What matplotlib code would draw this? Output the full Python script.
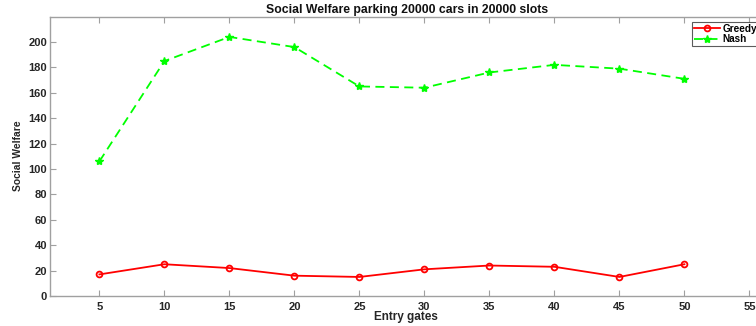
import matplotlib
matplotlib.use("Agg")
import matplotlib.pyplot as plt

gates = [5, 10, 15, 20, 25, 30, 35, 40, 45, 50]
greedy = [17, 25, 22, 16, 15, 21, 24, 23, 15, 25]
nash = [106, 185, 204, 196, 165, 164, 176, 182, 179, 171]
xticks = [5, 10, 15, 20, 25, 30, 35, 40, 45, 50, 55]
yticks = [0, 20, 40, 60, 80, 100, 120, 140, 160, 180, 200]

plt.rcParams['font.family'] = ['Liberation Sans', 'DejaVu Sans']
plt.rcParams['font.weight'] = 'bold'

W, H = 756, 326
fig = plt.figure(figsize=(W/100, H/100), dpi=100)
x0, x1 = 1.2, 56.0
ppu = 13.0
left = 50
right = left + (x1 - x0) * ppu
bottom_px = 296
top_px = 16.6
ax = fig.add_axes([left/W, 1 - bottom_px/H, (right-left)/W, (bottom_px-top_px)/H])

ax.plot(gates, greedy, color='#ff0000', lw=1.3, marker='o', ms=4.2,
        mfc='none', mec='#ff0000', mew=1.3, label='Greedy')
ax.plot(gates, nash, color='#00ff00', lw=1.3, ls=(0, (5, 3)), marker='*', ms=6,
        mfc='#00ff00', mec='#00ff00', label='Nash')

ax.set_xlim(x0, x1)
ax.set_ylim(0, 220)
ax.set_xticks(xticks)
ax.set_yticks(yticks)
for s in ax.spines.values():
    s.set_color('#a0a0a0')
    s.set_linewidth(1.0)
ax.tick_params(direction='in', length=4, color='#a0a0a0', labelsize=8,
               top=True, right=False, labelcolor='#262626')
ax.tick_params(axis='x', pad=4)
ax.tick_params(axis='y', pad=2)
for lab in ax.get_xticklabels() + ax.get_yticklabels():
    lab.set_fontweight('bold')

fig.text(407/W, 1 - 10/H, 'Social Welfare parking 20000 cars in 20000 slots',
         fontsize=8.8, fontweight='bold', ha='center', va='center', color='#111111')
fig.text(18/W, 1 - 156/H, 'Social Welfare', rotation=90, fontsize=7.4,
         fontweight='bold', ha='center', va='center', color='#262626')
fig.text(406/W, 1 - 317/H, 'Entry gates', fontsize=8.5, fontweight='bold',
         ha='center', va='center', color='#262626')

leg = fig.legend(loc='upper left', bbox_to_anchor=(692/W, 1 - 22/H),
                 fontsize=7.2, frameon=True, fancybox=False, borderpad=0.15,
                 handlelength=2.6, handletextpad=0.3, labelspacing=0.05,
                 borderaxespad=0)
leg.get_frame().set_edgecolor('#333333')
leg.get_frame().set_linewidth(0.8)
for t in leg.get_texts():
    t.set_fontweight('bold')

fig.savefig('out.png', dpi=100)
